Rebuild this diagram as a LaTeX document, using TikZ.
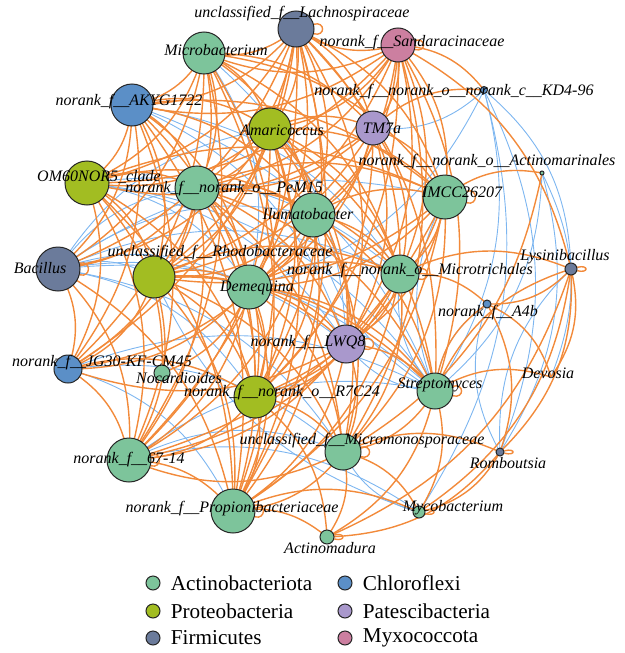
\documentclass[tikz,border=0pt]{standalone}
\usepackage{fontspec}
\setmainfont{Liberation Serif}
\usetikzlibrary{positioning}
\pgfdeclarelayer{edges}
\pgfsetlayers{edges,main}
\definecolor{actino}{HTML}{7DC49B}
\definecolor{proteo}{HTML}{A2BD22}
\definecolor{firmi}{HTML}{6B7B9B}
\definecolor{chloro}{HTML}{5B8FC7}
\definecolor{pates}{HTML}{A998CC}
\definecolor{myxo}{HTML}{CC7FA0}
\definecolor{edgeor}{HTML}{F28A3A}
\definecolor{edgebl}{HTML}{7DB6F0}
\tikzset{
  tax/.style={circle, draw=black!85, line width=0.5pt, inner sep=0pt, minimum size=#1},
  lab/.style={font=\itshape\fontsize{8}{9}\selectfont, inner sep=0pt},
  legtext/.style={font=\fontsize{10.6}{12}\selectfont, inner sep=0pt, anchor=west},
  poslink/.style={draw=edgeor, line width=0.7pt, bend left=24},
  neglink/.style={draw=edgebl, line width=0.45pt, bend left=24},
  selfloop/.style={draw=edgeor, line width=0.7pt, loop right, min distance=6pt},
}
\begin{document}
\begin{tikzpicture}[x=0.5pt, y=-0.5pt]
\useasboundingbox (0,0) rectangle (625,653);
% taxa
\node[tax=18pt, fill=firmi] (lach) at (296,29) {};
\node[tax=17pt, fill=myxo] (sand) at (398,45) {};
\node[tax=21pt, fill=actino] (micb) at (204,53) {};
\node[tax=21pt, fill=chloro] (akyg) at (132,105) {};
\node[tax=21pt, fill=proteo] (amar) at (270,129) {};
\node[tax=17pt, fill=pates] (tm7a) at (373,128) {};
\node[tax=3.5pt, fill=chloro] (kd4) at (484,90) {};
\node[tax=2pt, fill=actino] (actm) at (542,173) {};
\node[tax=22pt, fill=proteo] (om60) at (87,183) {};
\node[tax=22pt, fill=actino] (pem15) at (197,188) {};
\node[tax=22pt, fill=actino] (ilum) at (313,215) {};
\node[tax=22pt, fill=actino] (imcc) at (445,197) {};
\node[tax=22pt, fill=firmi] (baci) at (58,269) {};
\node[tax=21pt, fill=proteo] (rhod) at (154,277) {};
\node[tax=22pt, fill=actino] (deme) at (249,287) {};
\node[tax=19pt, fill=actino] (mict) at (400,274) {};
\node[tax=19pt, fill=pates] (lwq8) at (346,344) {};
\node[tax=6pt, fill=firmi] (lysi) at (571,269) {};
\node[tax=4pt, fill=chloro] (a4b) at (487,304) {};
\node[inner sep=0pt, minimum size=0pt] (devo) at (551,377) {};
\node[tax=18pt, fill=actino] (strep) at (435,391) {};
\node[tax=14pt, fill=chloro] (jg30) at (68,369) {};
\node[tax=8pt, fill=actino] (noca) at (162,373) {};
\node[tax=21pt, fill=proteo] (r7c24) at (255,397) {};
\node[tax=18pt, fill=actino] (mmon) at (343,452) {};
\node[tax=22pt, fill=actino] (n6714) at (129,460) {};
\node[tax=22pt, fill=actino] (prop) at (233,511) {};
\node[tax=4pt, fill=firmi] (romb) at (500,452) {};
\node[tax=6pt, fill=actino] (mycb) at (419,512) {};
\node[tax=7pt, fill=actino] (acmd) at (327,537) {};
% names
\node[lab] (lach-t) at (302,14) {unclassified\_f\_\_Lachnospiraceae};
\node[lab] (sand-t) at (412,43) {norank\_f\_\_Sandaracinaceae};
\node[lab] (micb-t) at (216,50) {Microbacterium};
\node[lab] (akyg-t) at (129,102) {norank\_f\_\_AKYG1722};
\node[lab] (amar-t) at (282,130) {Amaricoccus};
\node[lab] (tm7a-t) at (382,128) {TM7a};
\node[lab] (kd4-t) at (454,92) {norank\_f\_\_norank\_o\_\_norank\_c\_\_KD4-96};
\node[lab] (actm-t) at (487,162) {norank\_f\_\_norank\_o\_\_Actinomarinales};
\node[lab] (om60-t) at (99,177) {OM60NOR5\_clade};
\node[lab] (pem15-t) at (224,189) {norank\_f\_\_norank\_o\_\_PeM15};
\node[lab] (ilum-t) at (308,214) {Ilumatobacter};
\node[lab] (imcc-t) at (462,192) {IMCC26207};
\node[lab] (baci-t) at (40,268) {Bacillus};
\node[lab] (rhod-t) at (220,253) {unclassified\_f\_\_Rhodobacteraceae};
\node[lab] (deme-t) at (257,288) {Demequina};
\node[lab] (mict-t) at (410,271) {norank\_f\_\_norank\_o\_\_Microtrichales};
\node[lab] (lwq8-t) at (308,343) {norank\_f\_\_LWQ8};
\node[lab] (lysi-t) at (565,257) {Lysinibacillus};
\node[lab] (a4b-t) at (488,313) {norank\_f\_\_A4b};
\node[lab] (devo-t) at (548,373) {Devosia};
\node[lab] (strep-t) at (440,385) {Streptomyces};
\node[lab] (jg30-t) at (102,363) {norank\_f\_\_JG30-KF-CM45};
\node[lab] (noca-t) at (179,378) {Nocardioides};
\node[lab] (r7c24-t) at (282,393) {norank\_f\_\_norank\_o\_\_R7C24};
\node[lab] (mmon-t) at (362,441) {unclassified\_f\_\_Micromonosporaceae};
\node[lab] (n6714-t) at (129,460) {norank\_f\_\_67-14};
\node[lab] (prop-t) at (232,509) {norank\_f\_\_Propionibacteriaceae};
\node[lab] (romb-t) at (508,463) {Romboutsia};
\node[lab] (mycb-t) at (453,508) {Mycobacterium};
\node[lab] (acmd-t) at (330,548) {Actinomadura};
% links
\begin{pgfonlayer}{edges}
\foreach \s/\ts in {
  baci/{rhod,deme,ilum,pem15,mict,lwq8,strep,imcc,r7c24,mmon,amar},
  kd4/{strep,tm7a,lysi,romb,mycb,deme},
  actm/{devo,romb,strep},
  micb/{deme,lwq8},
  akyg/{lwq8,strep,mict},
  jg30/{prop,mmon,strep},
  n6714/{mmon,mycb,strep},
  strep/{imcc,mict,lwq8,a4b,ilum},
  mycb/{mmon,rhod},
  romb/{lysi,a4b},
  om60/{strep,mict,lwq8,deme}}
  \foreach \t in \ts \draw[neglink] (\s.center) to (\t.center);
\foreach \s/\ts in {
  lach/{micb,akyg,amar,om60,pem15,ilum,imcc,baci,rhod,deme,mict,lwq8,strep,jg30,r7c24,n6714,prop,tm7a},
  sand/{micb,akyg,amar,tm7a,om60,pem15,ilum,imcc,rhod,deme,mict,lwq8,strep,r7c24,mmon,kd4,lach,lysi},
  micb/{akyg,amar,om60,pem15,ilum,imcc,baci,rhod,mict,jg30,r7c24,n6714,prop,tm7a},
  akyg/{amar,om60,pem15,ilum,imcc,rhod,deme,jg30,r7c24,n6714,prop,baci},
  amar/{om60,pem15,ilum,imcc,baci,rhod,deme,mict,lwq8,strep,r7c24,mmon,n6714,prop,tm7a},
  tm7a/{om60,pem15,ilum,imcc,rhod,deme,mict,lwq8,r7c24,kd4},
  om60/{pem15,ilum,imcc,rhod,jg30,r7c24,n6714,prop,noca},
  pem15/{ilum,imcc,baci,rhod,deme,mict,lwq8,strep,jg30,r7c24,mmon,n6714,prop},
  ilum/{imcc,rhod,deme,mict,lwq8,strep,jg30,r7c24,mmon,n6714,prop},
  imcc/{rhod,deme,mict,lwq8,r7c24,mmon,n6714,prop,actm},
  baci/{jg30,n6714,prop},
  rhod/{deme,mict,lwq8,strep,jg30,r7c24,mmon,n6714,prop},
  deme/{mict,lwq8,strep,jg30,r7c24,mmon,n6714,prop,noca},
  mict/{lwq8,r7c24,mmon,n6714,prop,lysi,a4b},
  lwq8/{r7c24,mmon,n6714,prop,jg30,strep},
  strep/{a4b,lysi,mmon,acmd,mycb,devo},
  jg30/{n6714,r7c24},
  r7c24/{mmon,n6714,prop,acmd},
  mmon/{prop,acmd,mycb,romb,n6714},
  n6714/{prop},
  prop/{acmd,mycb},
  lysi/{a4b,romb,devo,acmd,mycb},
  a4b/{devo,romb},
  romb/{acmd,mycb},
  actm/{mmon}}
  \foreach \t in \ts \draw[poslink] (\s.center) to (\t.center);
\foreach \n in {lach,sand,baci,imcc,mict,lwq8,strep,n6714,prop,mmon,acmd,lysi,romb,mycb}
  \path (\n) edge[selfloop] (\n);
\end{pgfonlayer}
% legend
\node[tax=7pt, fill=actino] (lg1) at (153,583) {};
\node[tax=7pt, fill=proteo] (lg2) at (153,611) {};
\node[tax=7pt, fill=firmi] (lg3) at (153,638) {};
\node[tax=7pt, fill=chloro] (lg4) at (345,583) {};
\node[tax=7pt, fill=pates] (lg5) at (345,611) {};
\node[tax=7pt, fill=myxo] (lg6) at (345,638) {};
\node[legtext, right=5pt of lg1] (lg1-t) {Actinobacteriota};
\node[legtext, right=5pt of lg2] (lg2-t) {Proteobacteria};
\node[legtext, right=5pt of lg3] (lg3-t) {Firmicutes};
\node[legtext, right=5pt of lg4] (lg4-t) {Chloroflexi};
\node[legtext, right=5pt of lg5] (lg5-t) {Patescibacteria};
\node[legtext, right=5pt of lg6] (lg6-t) {Myxococcota};
\end{tikzpicture}
\end{document}
